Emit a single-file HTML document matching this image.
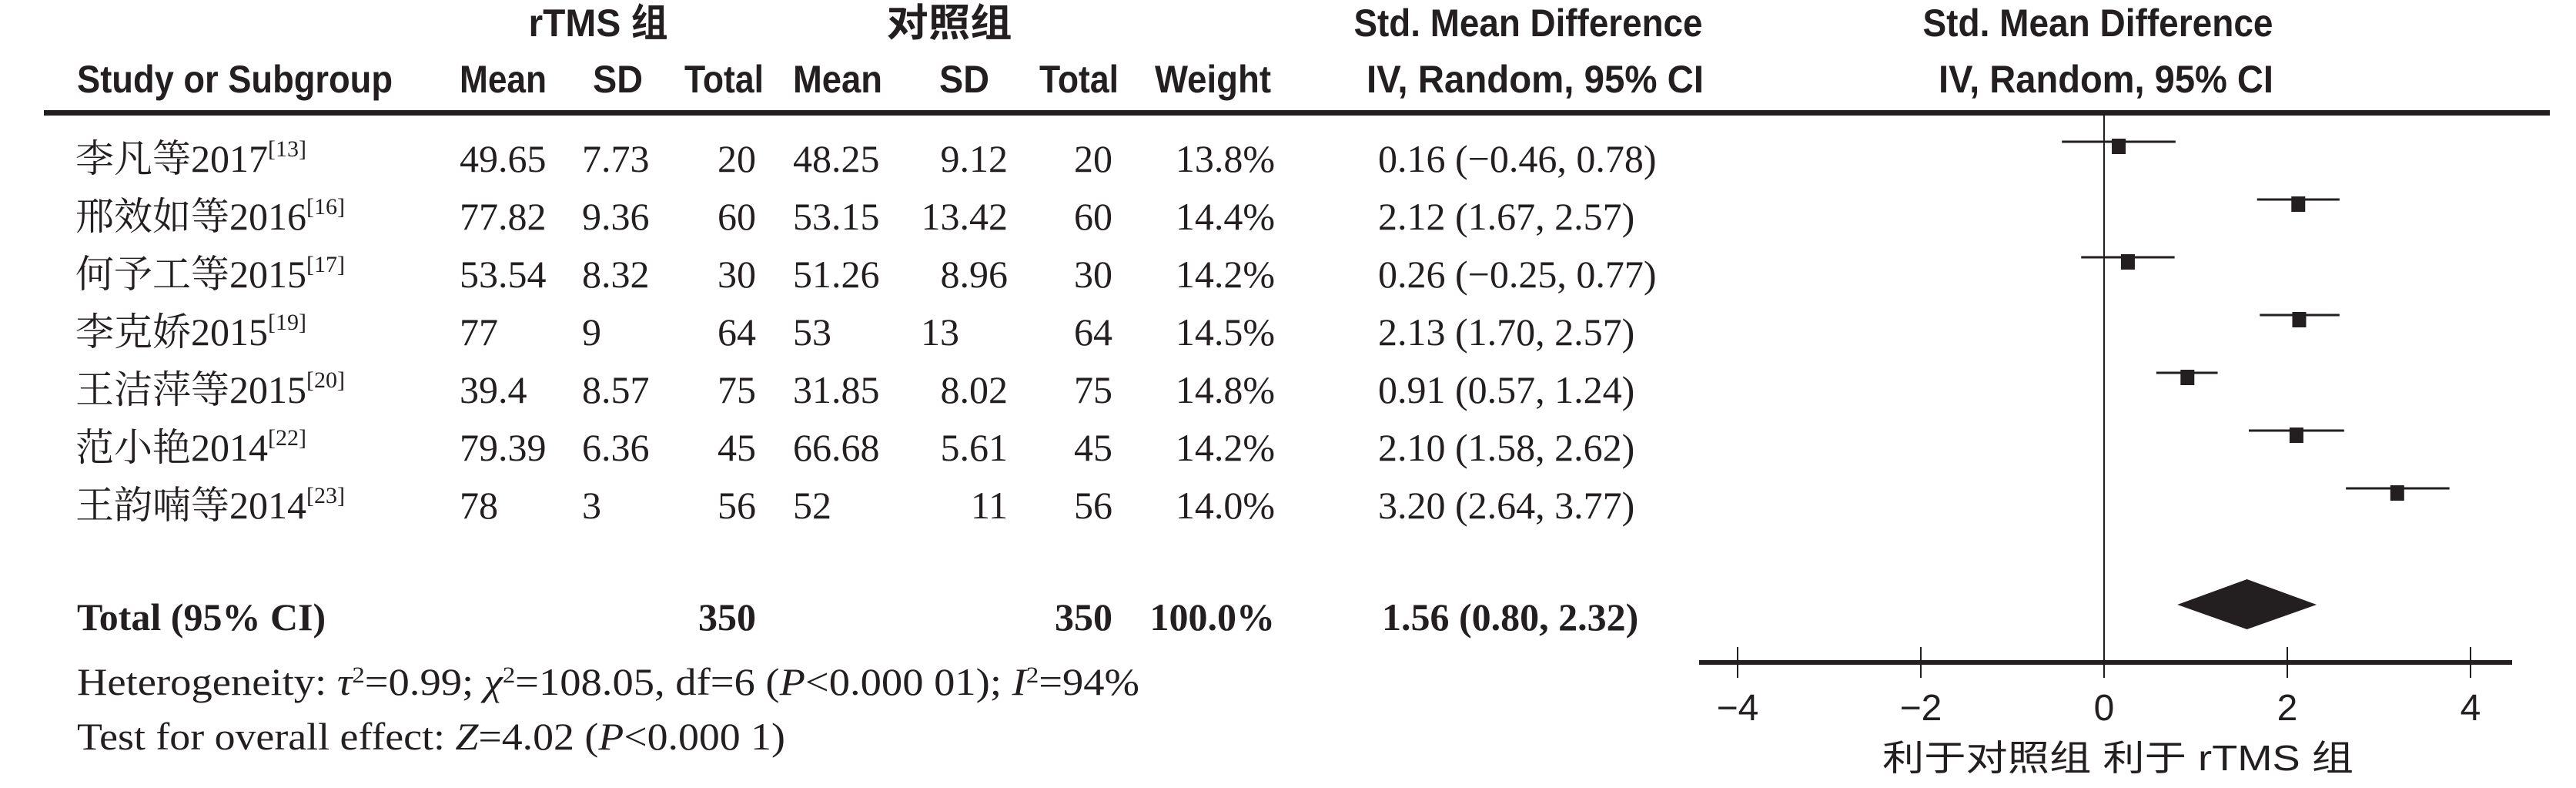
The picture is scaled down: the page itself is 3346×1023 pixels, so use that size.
<!DOCTYPE html>
<html><head><meta charset="utf-8"><style>
html,body{margin:0;padding:0;background:#fff;}
svg{display:block;}
.h{font-family:"Liberation Sans","Noto Sans CJK SC",sans-serif;font-weight:bold;font-size:50px;fill:#231f20;}
.d{font-family:"Liberation Serif","Noto Serif CJK SC","Noto Sans CJK SC",serif;font-size:50px;fill:#231f20;}
.t{font-family:"Liberation Sans",sans-serif;font-size:48px;fill:#231f20;}
.c{font-family:"Liberation Sans","Noto Sans CJK SC",sans-serif;font-size:46px;fill:#231f20;}
</style></head><body>
<svg id="chart" width="3346" height="1023" viewBox="0 0 3346 1023" xmlns="http://www.w3.org/2000/svg">
<g>
<text class="h" x="777" y="47" text-anchor="middle" textLength="181" lengthAdjust="spacingAndGlyphs">rTMS 组</text>
<text class="h" x="1233" y="47" text-anchor="middle" textLength="163" lengthAdjust="spacingAndGlyphs">对照组</text>
<text class="h" x="1985" y="47" text-anchor="middle" textLength="453" lengthAdjust="spacingAndGlyphs">Std. Mean Difference</text>
<text class="h" x="2725" y="47" text-anchor="middle" textLength="455" lengthAdjust="spacingAndGlyphs">Std. Mean Difference</text>
<text class="h" x="100" y="120" textLength="410" lengthAdjust="spacingAndGlyphs">Study or Subgroup</text>
<text class="h" x="597" y="120" textLength="113" lengthAdjust="spacingAndGlyphs">Mean</text>
<text class="h" x="770" y="120" textLength="65" lengthAdjust="spacingAndGlyphs">SD</text>
<text class="h" x="889" y="120" textLength="103" lengthAdjust="spacingAndGlyphs">Total</text>
<text class="h" x="1030" y="120" textLength="116" lengthAdjust="spacingAndGlyphs">Mean</text>
<text class="h" x="1220" y="120" textLength="65" lengthAdjust="spacingAndGlyphs">SD</text>
<text class="h" x="1350" y="120" textLength="103" lengthAdjust="spacingAndGlyphs">Total</text>
<text class="h" x="1500" y="120" textLength="151" lengthAdjust="spacingAndGlyphs">Weight</text>
<text class="h" x="1775" y="120" textLength="438" lengthAdjust="spacingAndGlyphs">IV, Random, 95% CI</text>
<text class="h" x="2518" y="120" textLength="435" lengthAdjust="spacingAndGlyphs">IV, Random, 95% CI</text>
</g>
<rect x="57" y="143" width="3255" height="7" fill="#231f20"/>
<g id="rows"></g>
<g id="plot"></g>
<text class="d" x="100" y="818" font-weight="bold">Total (95% CI)</text>
<text class="d" x="982" y="818" font-weight="bold" text-anchor="end">350</text>
<text class="d" x="1445" y="818" font-weight="bold" text-anchor="end">350</text>
<text class="d" x="1656" y="818" font-weight="bold" text-anchor="end">100.0%</text>
<text class="d" x="1795" y="818" font-weight="bold">1.56 (0.80, 2.32)</text>
<text class="d" x="100" y="902" font-size="46" textLength="1380" lengthAdjust="spacingAndGlyphs">Heterogeneity: <tspan font-style="italic">τ</tspan><tspan dy="-16" font-size="30">2</tspan><tspan dy="16">=0.99; </tspan><tspan font-style="italic">χ</tspan><tspan dy="-16" font-size="30">2</tspan><tspan dy="16">=108.05, df=6 (</tspan><tspan font-style="italic">P</tspan>&lt;0.000 01); <tspan font-style="italic">I</tspan><tspan dy="-16" font-size="30">2</tspan><tspan dy="16">=94%</tspan></text>
<text class="d" x="100" y="973" font-size="46" textLength="920" lengthAdjust="spacingAndGlyphs">Test for overall effect: <tspan font-style="italic">Z</tspan>=4.02 (<tspan font-style="italic">P</tspan>&lt;0.000 1)</text>
<text class="c" x="2751" y="1000" text-anchor="middle" textLength="612" lengthAdjust="spacingAndGlyphs">利于对照组  利于 rTMS 组</text>
</svg>
<script>
const studies = ["李凡等2017","邢效如等2016","何予工等2015","李克娇2015","王洁萍等2015","范小艳2014","王韵喃等2014"];
const refs = ["13","16","17","19","20","22","23"];
const mean1 = ["49.65","77.82","53.54","77","39.4","79.39","78"];
const sd1 = ["7.73","9.36","8.32","9","8.57","6.36","3"];
const n1 = ["20","60","30","64","75","45","56"];
const mean2 = ["48.25","53.15","51.26","53","31.85","66.68","52"];
const sd2 = ["9.12","13.42","8.96","13","8.02","5.61","11"];
const n2 = ["20","60","30","64","75","45","56"];
const weights = ["13.8%","14.4%","14.2%","14.5%","14.8%","14.2%","14.0%"];
const est = [0.16,2.12,0.26,2.13,0.91,2.10,3.20];
const lo = [-0.46,1.67,-0.25,1.70,0.57,1.58,2.64];
const hi = [0.78,2.57,0.77,2.57,1.24,2.62,3.77];
const totalEst = 1.56, totalLo = 0.80, totalHi = 2.32;
const ticks = [-4,-2,0,2,4];

const NS = "http://www.w3.org/2000/svg";
const xs = v => 2733 + v * 119;
const rowY = i => 223 + i * 75;
function fmt(v){ return (v<0?"\u2212":"") + Math.abs(v).toFixed(2); }
function mk(tag, attrs, parent){ const e=document.createElementNS(NS,tag); for(const k in attrs) e.setAttribute(k,attrs[k]); parent.appendChild(e); return e; }
const rows = document.getElementById("rows");
const plot = document.getElementById("plot");

studies.forEach((s,i)=>{
  const y = rowY(i);
  const g = mk("g",{},rows);
  
  
  const lab = mk("text",{class:"d",x:98,y:y},g);
  
  
  lab.textContent = s;
  const sup = mk("tspan",{dy:-20,"font-size":30},lab);
  sup.textContent = "[" + refs[i] + "]";
  const cells = [[mean1[i],597,"start"],[sd1[i],756,"start"],[n1[i],982,"end"],[mean2[i],1030,"start"],[sd2[i],sd2[i]==="13"?1196:1309,sd2[i]==="13"?"start":"end"],[n2[i],1445,"end"],[weights[i],1656,"end"],[fmt(est[i])+" ("+fmt(lo[i])+", "+fmt(hi[i])+")",1790,"start"]];
  cells.forEach(c=>{
    const t = mk("text",{class:"d",x:c[1],y:y,"text-anchor":c[2]},g);
    
    
    t.textContent = c[0];
  });
  const w = mk("line",{x1:xs(lo[i]),x2:xs(hi[i]),y1:y-39,y2:y-39,stroke:"#231f20","stroke-width":3},plot);
  
  
  const sq = mk("rect",{x:xs(est[i])-9,y:y-43,width:18,height:20,fill:"#231f20"},plot);
  
  
});

const zl = mk("line",{x1:xs(0),x2:xs(0),y1:147,y2:880,stroke:"#231f20","stroke-width":2},plot);


const dm = mk("polygon",{points:`${xs(totalLo)},785 ${xs(totalEst)},752 ${xs(totalHi)},785 ${xs(totalEst)},817`,fill:"#231f20"},plot);


const ax = mk("rect",{x:2207,y:857,width:1056,height:6,fill:"#231f20"},plot);


ticks.forEach(v=>{
  const tk = mk("line",{x1:xs(v),x2:xs(v),y1:840,y2:880,stroke:"#231f20","stroke-width":2},plot);
  
  
  const tl = mk("text",{class:"t",x:xs(v),y:935,"text-anchor":"middle"},plot);
  
  
  tl.textContent = (v<0?"\u2212":"") + Math.abs(v);
});
</script>
</body></html>
